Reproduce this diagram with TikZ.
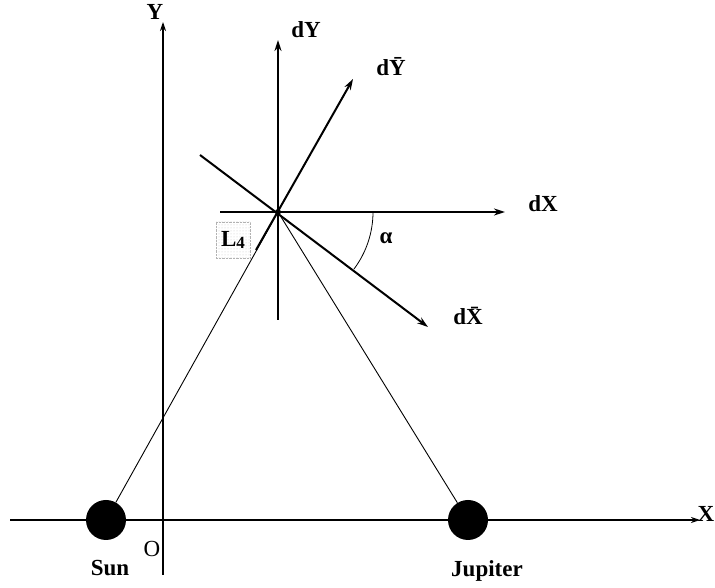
\documentclass[tikz,border=0pt]{standalone}
\usepackage{fontspec}
\setmainfont{Liberation Serif}
\usetikzlibrary{arrows.meta, calc, patterns}
\tikzset{
  axis/.style={line width=1.4pt, -{Stealth[length=9pt, width=6pt]}},
  vec/.style={line width=2pt, -{Stealth[length=11pt, width=7pt]}},
  link/.style={line width=0.9pt},
  planet/.style={circle, fill=black, minimum size=40pt, inner sep=0pt},
  lbl/.style={font=\fontsize{23}{26}\selectfont\bfseries, inner sep=1pt},
}

\begin{document}
\begin{tikzpicture}[x=1pt, y=1pt]
  \useasboundingbox (0,0) rectangle (715,588);
  % axes
  \coordinate (xs) at (10,68);
  \coordinate (xe) at (700,68);
  \coordinate (ys) at (163,13);
  \coordinate (ye) at (163,566);
  \draw[axis] (xs) -- (xe);
  \draw[axis] (ys) -- (ye);
  \node[lbl] (xl) at (706,74) {X};
  \node[lbl] (yl) at (155,576) {Y};
  \node[lbl, font=\fontsize{23}{26}\selectfont] (ol) at (152,39) {O};
  % sun and jupiter
  \node[planet] (sun) at (106,68) {};
  \node[planet] (jup) at (468,68) {};
  \node[lbl] (sunl) at (110,20) {Sun};
  \node[lbl] (jupl) at (487,17) {Jupiter};
  % L4 point
  \coordinate (L4) at (278,376);
  \draw[link] (sun) -- (L4);
  \draw[link] (jup) -- (L4);
  \node[lbl, draw=gray!60, densely dotted, pattern=dots, pattern color=gray!45,
        minimum width=34pt, minimum height=36pt] (l4l) at (233,348)
        {L\raisebox{-2pt}{\fontsize{17}{20}\selectfont 4}};
  % local frames
  \coordinate (dxs) at (220,376);
  \coordinate (dxe) at (505,376);
  \coordinate (dys) at (278,268);
  \coordinate (dye) at (278,548);
  \coordinate (dybs) at (256,338);
  \coordinate (dybe) at (353,509);
  \coordinate (dxbs) at (200,433);
  \coordinate (dxbe) at (428,261);
  \draw[vec] (dxs) -- (dxe);
  \draw[vec] (dys) -- (dye);
  \draw[vec] (dybs) -- (dybe);
  \draw[vec] (dxbs) -- (dxbe);
  \fill (L4) circle (3pt);
  \node[lbl] (dxl) at (543,384) {dX};
  \node[lbl] (dyl) at (306,558) {dY};
  \node[lbl] (dybl) at (391,521) {d\={Y}};
  \node[lbl] (dxbl) at (468,272) {d\={X}};
  % angle alpha
  \draw[line width=0.8pt] ($(L4)+(95,0)$) arc[start angle=0, end angle=-37, radius=95];
  \node[lbl] (al) at (386,350) {α};
\end{tikzpicture}
\end{document}
